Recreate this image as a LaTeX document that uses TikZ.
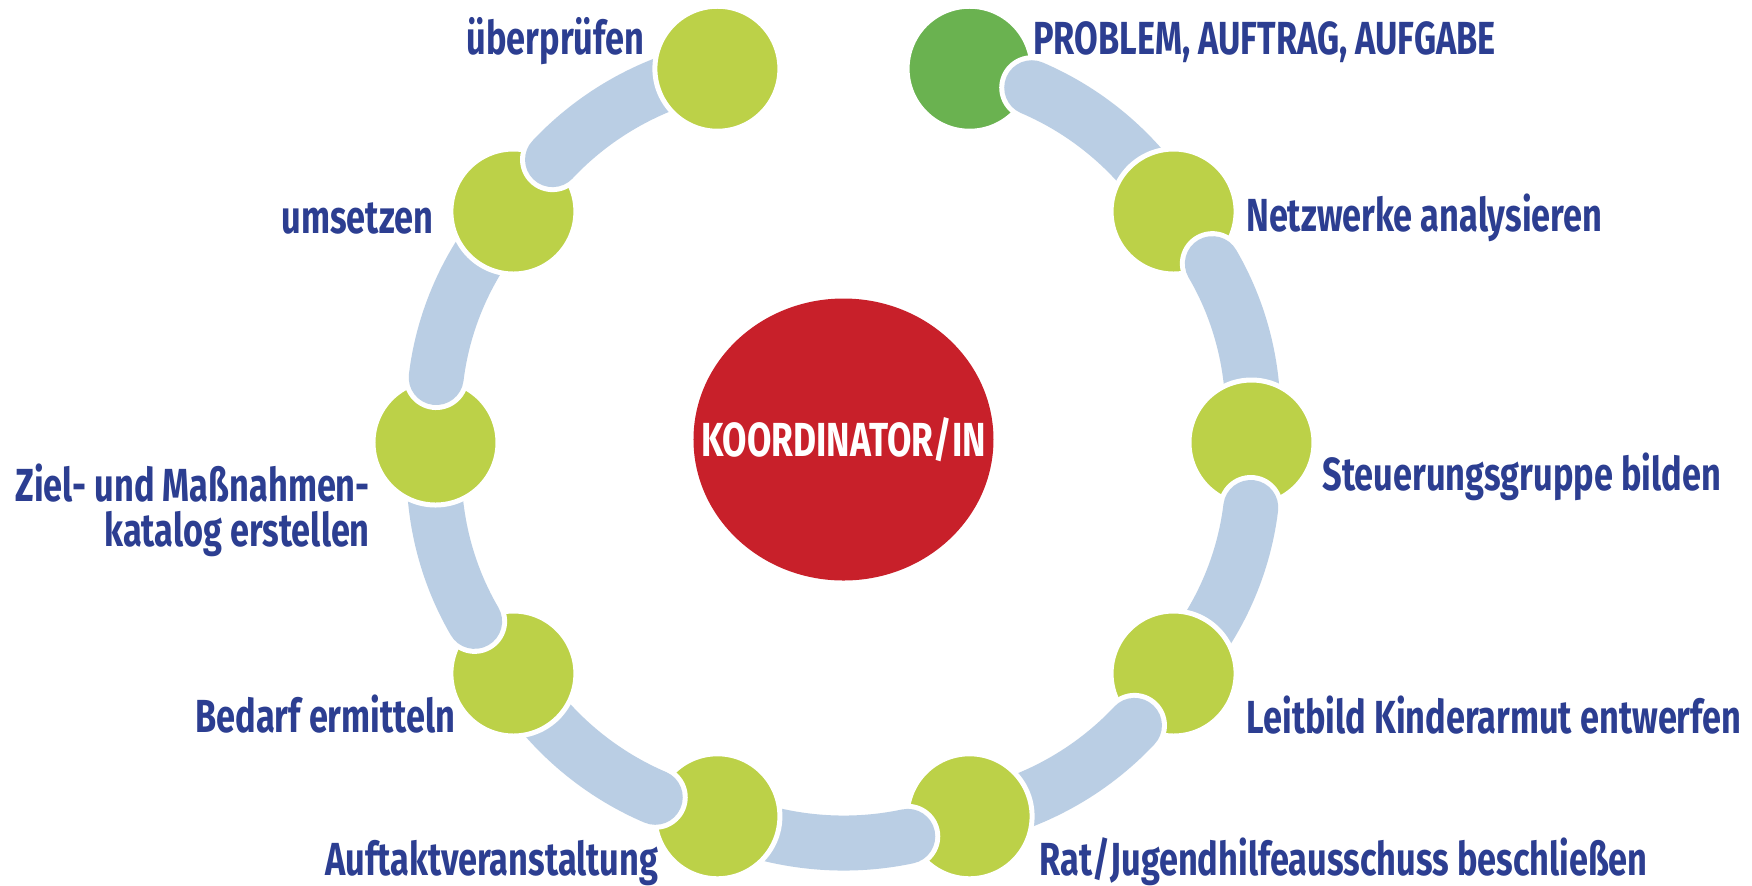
\documentclass[tikz,border=0pt]{standalone}
\usepackage{fontspec}
\setmainfont{Fira Sans}[FakeStretch=0.74]
\usepackage{tikz}
\usetikzlibrary{positioning, shapes.geometric}
\usepackage{xcolor}
\definecolor{stepgreen}{RGB}{188,209,72}
\definecolor{startgreen}{RGB}{106,178,80}
\definecolor{ringblue}{RGB}{186,206,228}
\definecolor{hubred}{RGB}{200,32,42}
\definecolor{labelblue}{RGB}{44,62,145}

\begin{document}
\begin{tikzpicture}[
	disc/.style={circle, minimum size=1.25cm, inner sep=0pt, fill=stepgreen, draw=white, line width=0.05cm},
	ringbar/.style={draw=white, line width=0.05cm, double=ringblue, double distance=0.55cm, line cap=round, bend left=18, looseness=0.87},
	lbl/.style={inner sep=0pt, text=labelblue, font=\fontsize{13.2}{12.8}\selectfont\bfseries}]
	\useasboundingbox (-8.435,-4.425) rectangle (9.085,4.425);
	\node[ellipse, minimum width=3cm, minimum height=2.82cm, inner sep=0pt, fill=hubred, text=white, font=\fontsize{13.6}{14}\selectfont\bfseries] (hub) at (0,0.03) {\makebox[0pt]{KOORDINATOR/IN}};
	
	\coordinate (p1) at (72:4.08 and 3.93);
	\coordinate (p2) at (36:4.08 and 3.93);
	\coordinate (p3) at (0:4.08 and 3.93);
	\coordinate (p4) at (-36:4.08 and 3.93);
	\coordinate (p5) at (-72:4.08 and 3.93);
	\coordinate (p6) at (-108:4.08 and 3.93);
	\coordinate (p7) at (-144:4.08 and 3.93);
	\coordinate (p8) at (180:4.08 and 3.93);
	\coordinate (p9) at (144:4.08 and 3.93);
	\coordinate (p10) at (108:4.08 and 3.93);
	
	\node[disc, fill=startgreen] (s1) at (p1) {};
	\draw[ringbar] (s1) to (p2);
	\node[disc] (s2) at (p2) {};
	\draw[ringbar] (s2) to (p3);
	\node[disc] (s3) at (p3) {};
	\draw[ringbar] (s3) to (p4);
	\node[disc] (s4) at (p4) {};
	\draw[ringbar] (s4) to (p5);
	\node[disc] (s5) at (p5) {};
	\draw[ringbar] (s5) to (p6);
	\node[disc] (s6) at (p6) {};
	\draw[ringbar] (s6) to (p7);
	\node[disc] (s7) at (p7) {};
	\draw[ringbar] (s7) to (p8);
	\node[disc] (s8) at (p8) {};
	\draw[ringbar] (s8) to (p9);
	\node[disc] (s9) at (p9) {};
	\draw[ringbar] (s9) to (p10);
	\node[disc] (s10) at (p10) {};
	
	\node[lbl, right=-0.02cm of s1, yshift=0.24cm, anchor=mid west] (t1) {PROBLEM, AUFTRAG, AUFGABE};
	\node[lbl, right=0.07cm of s2, yshift=-0.105cm, anchor=mid west] (t2) {Netzwerke analysieren};
	\node[lbl, right=0.055cm of s3, yshift=-0.385cm, anchor=mid west] (t3) {Steuerungsgruppe bilden};
	\node[lbl, right=0.075cm of s4, yshift=-0.505cm, anchor=mid west] (t4) {Leitbild Kinderarmut entwerfen};
	\node[lbl, right=0.045cm of s5, yshift=-0.50cm, anchor=mid west] (t5) {Rat/Jugendhilfeausschuss beschließen};
	\node[lbl, left=-0.066cm of s6, yshift=-0.50cm, anchor=mid east] (t6) {Auftaktveranstaltung};
	\node[lbl, left=-0.076cm of s7, yshift=-0.495cm, anchor=mid east] (t7) {Bedarf ermitteln};
	\node[lbl, left=0cm of s8, yshift=-0.675cm, align=right] (t8) {Ziel- und Maßnahmen-\\katalog erstellen};
	\node[lbl, left=0.145cm of s9, yshift=-0.125cm, anchor=mid east] (t9) {umsetzen};
	\node[lbl, left=0.075cm of s10, yshift=0.24cm, anchor=mid east] (t10) {überprüfen};
\end{tikzpicture}
\end{document}
